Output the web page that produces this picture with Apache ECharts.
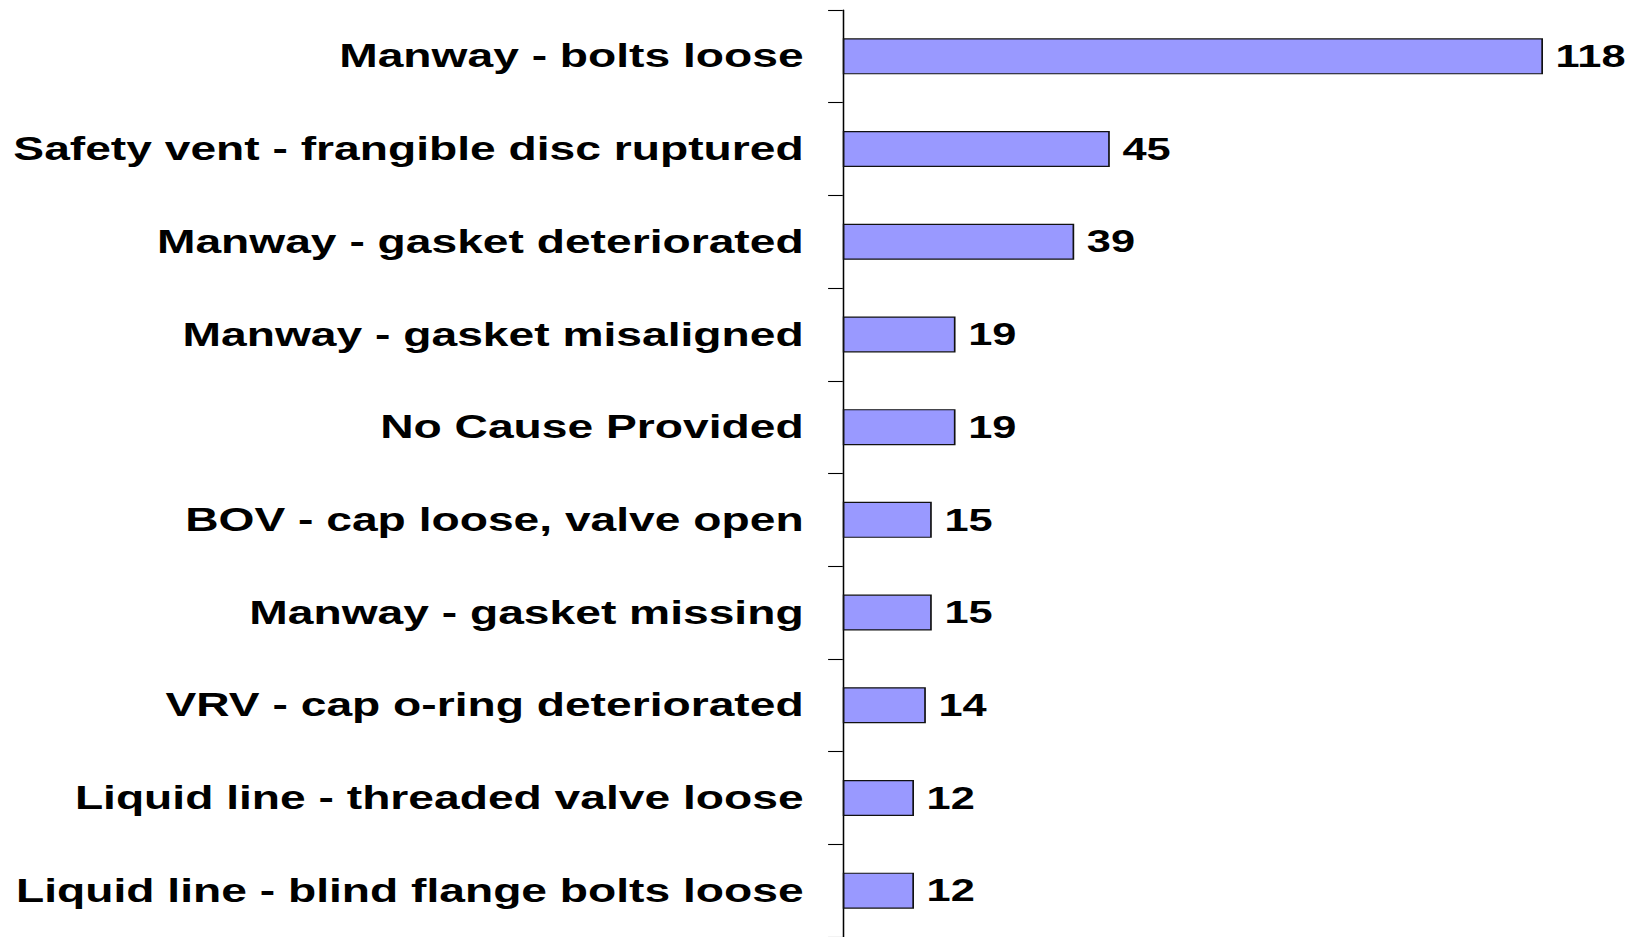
<!DOCTYPE html>
<html>
<head>
<meta charset="utf-8">
<script src="https://cdn.jsdelivr.net/npm/echarts@6/dist/echarts.min.js"></script>
<style>
  html, body { margin: 0; padding: 0; background: #fff; overflow: hidden; }
  /* the reference is stretched sideways, so draw narrow and widen it */
  #wrap { width: 1643px; height: 937px; overflow: hidden; }
  #chart { width: 1173.6px; height: 937px; transform: scaleX(1.4); transform-origin: 0 0; }
</style>
</head>
<body>
<div id="wrap"><div id="chart"></div></div>
<script>
var categories = [
  'Manway - bolts loose',
  'Safety vent - frangible disc ruptured',
  'Manway - gasket deteriorated',
  'Manway - gasket misaligned',
  'No Cause Provided',
  'BOV - cap loose, valve open',
  'Manway - gasket missing',
  'VRV - cap o-ring deteriorated',
  'Liquid line - threaded valve loose',
  'Liquid line - blind flange bolts loose'
];
var counts = [118, 45, 39, 19, 19, 15, 15, 14, 12, 12];

(function() {
  var font = '"Liberation Sans", Arial, sans-serif';
  var chart = echarts.init(document.getElementById('chart'), null, { renderer: 'svg' });

  chart.setOption({
    animation: false,
    grid: { left: 602, right: 21, top: 10, bottom: 0, containLabel: false },
    xAxis: {
      type: 'value',
      min: 0,
      max: 130,
      show: false
    },
    yAxis: {
      type: 'category',
      data: categories,
      inverse: true,
      axisLine: { show: true, lineStyle: { color: '#000', width: 1.1 } },
      axisTick: { show: true, inside: false, length: 10.5, lineStyle: { color: '#000', width: 1.1 } },
      axisLabel: {
        color: '#000',
        fontSize: 33,
        fontWeight: 'bold',
        fontFamily: font,
        margin: 28,
        padding: [4, 0, 0, 0]
      },
      splitLine: { show: false }
    },
    series: [{
      type: 'bar',
      data: counts,
      barWidth: 36,
      itemStyle: { color: '#9999ff', borderColor: '#111', borderWidth: 1.2 },
      label: {
        show: true,
        position: 'right',
        distance: 9,
        color: '#000',
        fontSize: 31,
        fontWeight: 'bold',
        fontFamily: font
      }
    }]
  });

  window.addEventListener('resize', function() { chart.resize(); });
})();
</script>
</body>
</html>
